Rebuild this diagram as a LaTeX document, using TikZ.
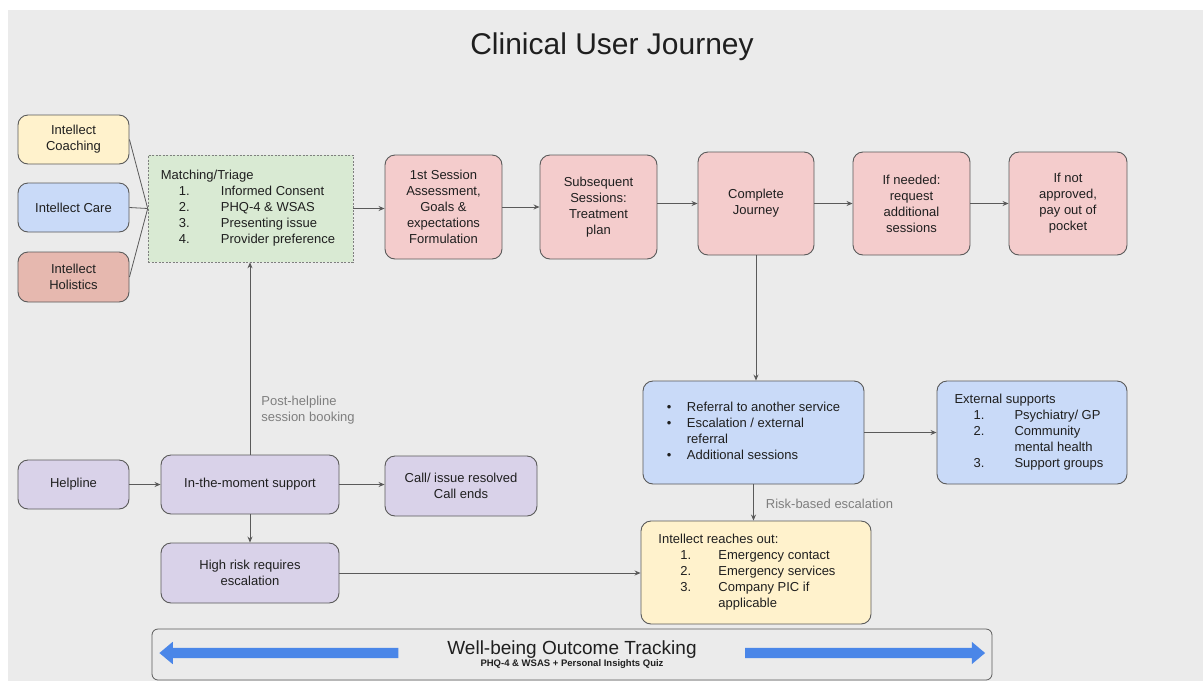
\documentclass[tikz,border=0pt]{standalone}
\usepackage{fontspec}
\setmainfont{Liberation Sans}
\usetikzlibrary{arrows.meta,shapes.arrows}

\definecolor{bg}{HTML}{EBEBEB}
\definecolor{ink}{HTML}{1F1F1F}
\definecolor{edge}{HTML}{5A5A5A}
\definecolor{soft}{HTML}{7F7F7F}
\definecolor{yel}{HTML}{FFF2CC}
\definecolor{blu}{HTML}{C9DAF8}
\definecolor{hol}{HTML}{E6B8AF}
\definecolor{pnk}{HTML}{F4CCCC}
\definecolor{grn}{HTML}{D9EAD3}
\definecolor{pur}{HTML}{D9D2E9}
\definecolor{arrowblue}{HTML}{4A86E8}

\tikzset{
  box/.style={draw=edge, line width=0.9pt, rounded corners=10pt, text=ink,
    font=\fontsize{13}{16}\selectfont, align=center, inner sep=0pt},
  dims/.style 2 args={minimum width=#1pt, minimum height=#2pt},
  conn/.style={draw=edge, line width=0.8pt},
  arr/.style={conn, -{Stealth[length=6pt,width=5pt]}},
  lbl/.style={text=soft, font=\fontsize{13}{16}\selectfont, align=left, inner sep=0pt},
  bigarrow/.style={single arrow, fill=arrowblue, draw=none, inner sep=0pt,
    text height=5pt, text depth=5pt, text width=0pt,
    minimum width=22pt, single arrow head extend=6pt,
    single arrow tip angle=80, single arrow head indent=0pt},
}

\begin{document}
\begin{tikzpicture}[x=1pt,y=-1pt]
\useasboundingbox (0,0) rectangle (1203,681);
\fill[white] (0,0) rectangle (1203,681);
\fill[bg] (8,10) rectangle (1203,681);

% title
\node[text=ink, font=\fontsize{30}{34}\selectfont] (title) at (612,47) {Clinical User Journey};

% entry points
\node[box, fill=yel, dims={111}{49}] (coach) at (73.5,139.5) {Intellect\\Coaching};
\node[box, fill=blu, dims={111}{49}] (care) at (73.5,207.5) {Intellect Care};
\node[box, fill=hol, dims={111}{50}] (hol) at (73.5,277) {Intellect\\Holistics};

% matching / triage
\node[box, fill=grn, dims={205}{107}, rounded corners=0pt, draw=soft, line width=0.6pt,
      dash pattern=on 2pt off 1.5pt] (match) at (250.5,208.5) {%
  \begin{tabular}{@{\hspace{18pt}}p{42pt}@{}l@{\hspace{5pt}}}
  \multicolumn{2}{@{}l}{Matching/Triage}\\
  1. & Informed Consent\\
  2. & PHQ-4 \& WSAS\\
  3. & Presenting issue\\
  4. & Provider preference
  \end{tabular}};

% clinical pathway
\node[box, fill=pnk, dims={117}{104}] (s1) at (443.5,207) {1st Session\\Assessment,\\Goals \&\\expectations\\Formulation};
\node[box, fill=pnk, dims={117}{104}] (s2) at (598.5,207) {Subsequent\\Sessions:\\Treatment\\plan};
\node[box, fill=pnk, dims={116}{103}] (comp) at (756,203.5) {Complete\\Journey};
\node[box, fill=pnk, dims={117}{103}] (need) at (911.5,203.5) {If needed:\\request\\additional\\sessions};
\node[box, fill=pnk, dims={118}{103}] (notap) at (1068,203.5) {If not\\approved,\\pay out of\\pocket};

% follow-up
\node[box, fill=blu, dims={221}{103}] (ref) at (753.5,432.5) {%
  \begin{tabular}{@{}p{20pt}@{}l@{}}
  • & Referral to another service\\
  • & Escalation / external\\
    & referral\\
  • & Additional sessions
  \end{tabular}};
\node[box, fill=blu, dims={190}{103}] (ext) at (1032,432.5) {%
  \begin{tabular}{@{\hspace{19pt}}p{41pt}@{}l@{\hspace{6pt}}}
  \multicolumn{2}{@{}l}{External supports}\\
  1. & Psychiatry/ GP\\
  2. & Community\\
     & mental health\\
  3. & Support groups
  \end{tabular}};
\node[box, fill=yel, dims={230}{103}] (reach) at (756,572.5) {%
  \begin{tabular}{@{\hspace{22pt}}p{38pt}@{}l@{\hspace{18pt}}}
  \multicolumn{2}{@{}l}{Intellect reaches out:}\\
  1. & Emergency contact\\
  2. & Emergency services\\
  3. & Company PIC if\\
     & applicable
  \end{tabular}};

% helpline
\node[box, fill=pur, dims={111}{49}] (help) at (73.5,484.5) {Helpline};
\node[box, fill=pur, dims={178}{59}] (itm) at (250,484.5) {In-the-moment support};
\node[box, fill=pur, dims={152}{60}] (call) at (461,486) {Call/ issue resolved\\Call ends};
\node[box, fill=pur, dims={178}{60}] (risk) at (250,573) {High risk requires\\escalation};

% outcome tracking
\node[box, fill=bg, dims={840}{51}, rounded corners=6pt, line width=0.8pt] (well) at (572,654.5) {%
  \raisebox{-4pt}{\fontsize{19}{20}\selectfont Well-being Outcome Tracking}\\[-1pt]
  \raisebox{-1pt}{\fontsize{9.5}{11}\selectfont\bfseries PHQ-4 \& WSAS + Personal Insights Quiz}};
\node[bigarrow, minimum height=239pt, shape border rotate=180] (larr) at (282,653) {};
\node[bigarrow, minimum height=240pt] (rarr) at (862,653) {};

% connectors
\draw[conn] (coach.east) -- (match.west);
\draw[conn] (care.east) -- (match.west);
\draw[conn] (hol.east) -- (match.west);
\draw[arr] (match.east) -- (match.east -| s1.west);
\draw[arr] (s1.east) -- (s2.west);
\draw[arr] (s2.east |- comp.west) -- (comp.west);
\draw[arr] (comp.east) -- (need.west);
\draw[arr] (need.east) -- (notap.west);
\draw[arr] (comp.south) -- (comp.south |- ref.north);
\draw[arr] (ref.east) -- (ext.west);
\draw[arr] (ref.south) -- (ref.south |- reach.north)
  node[lbl, pos=0.55, anchor=west, xshift=12pt] (riskl) {Risk-based escalation};
\draw[arr] (help.east) -- (itm.west);
\draw[arr] (itm.east) -- (itm.east -| call.west);
\draw[arr] (itm.south) -- (risk.north);
\draw[arr] (itm.north) -- (itm.north |- match.south)
  node[lbl, pos=0.23, anchor=west, xshift=11pt] (postl) {Post-helpline\\session booking};
\draw[arr] (risk.east) -- (risk.east -| reach.west);
\end{tikzpicture}
\end{document}
